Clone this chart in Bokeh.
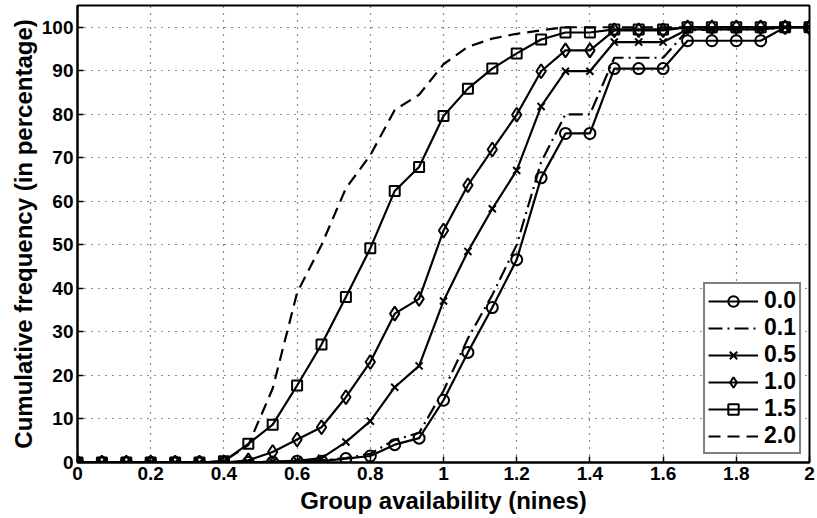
from bokeh.plotting import figure
from bokeh.models import Range1d, FixedTicker, CustomJSTickFormatter
from bokeh.embed import file_html
from bokeh.resources import INLINE

# Group availability (nines)
x = [0.0, 0.0667, 0.1333, 0.2, 0.2667, 0.3333, 0.4, 0.4667, 0.5333, 0.6,
     0.6667, 0.7333, 0.8, 0.8667, 0.9333, 1.0, 1.0667, 1.1333, 1.2, 1.2667,
     1.3333, 1.4, 1.4667, 1.5333, 1.6, 1.6667, 1.7333, 1.8, 1.8667, 1.9333, 2.0]

s00 = [0, 0, 0, 0, 0, 0, 0, 0, 0.1, 0.3, 0.3, 0.9, 1.5, 4.1, 5.6, 14.3, 25.3,
       35.6, 46.6, 65.4, 75.6, 75.6, 90.5, 90.5, 90.5, 96.9, 96.9, 96.9, 96.9, 100, 100]
s01 = [0, 0, 0, 0, 0, 0, 0, 0, 0.2, 0.4, 0.5, 1.0, 2.0, 5.2, 6.8, 16.5, 28.5,
       38.5, 50.0, 69.0, 80.0, 80.0, 93.0, 93.0, 93.0, 99.3, 99.5, 99.5, 99.5, 100, 100]
s05 = [0, 0, 0, 0, 0, 0, 0, 0, 0.2, 0.4, 1.0, 4.7, 9.5, 17.3, 22.2, 37.1, 48.5,
       58.3, 67.1, 81.8, 89.9, 89.9, 96.6, 96.6, 96.6, 99.5, 99.5, 99.5, 99.5, 100, 100]
s10 = [0, 0, 0, 0, 0, 0, 0, 0.5, 2.4, 5.3, 8.1, 15.0, 23.1, 34.2, 37.6, 53.3, 63.7,
       71.9, 79.9, 89.9, 94.7, 94.7, 99.3, 99.3, 99.3, 100, 100, 100, 100, 100, 100]
s15 = [0, 0, 0, 0, 0, 0, 0.3, 4.3, 8.7, 17.7, 27.1, 38.0, 49.2, 62.4, 67.9, 79.6, 85.9,
       90.5, 94.0, 97.2, 98.8, 98.8, 99.5, 99.5, 99.5, 100, 100, 100, 100, 100, 100]
s20 = [0, 0, 0, 0, 0, 0, 0.3, 4.0, 17.0, 39.0, 50.0, 63.0, 70.6, 81.0, 84.5, 91.5, 95.5,
       97.4, 98.5, 99.3, 100, 100, 100, 100, 100, 100, 100, 100, 100, 100, 100]

x_ticks = [0, 0.2, 0.4, 0.6, 0.8, 1.0, 1.2, 1.4, 1.6, 1.8, 2.0]
y_ticks = [0, 10, 20, 30, 40, 50, 60, 70, 80, 90, 100]

FONT = "Liberation Sans"

p = figure(width=815, height=516, output_backend="svg", toolbar_location=None,
           x_range=Range1d(0, 2), y_range=Range1d(0, 105),
           min_border_left=77, min_border_right=6, min_border_top=5, min_border_bottom=54)

p.background_fill_color = "white"
p.outline_line_color = "black"
p.outline_line_width = 2

fmt = CustomJSTickFormatter(code="var s = tick.toFixed(1); return s.endsWith('.0') ? s.slice(0, -2) : s;")

for ax in p.xaxis:
    ax.ticker = FixedTicker(ticks=x_ticks)
    ax.formatter = fmt
for ax in p.yaxis:
    ax.ticker = FixedTicker(ticks=y_ticks)

for ax in list(p.xaxis) + list(p.yaxis):
    ax.axis_line_width = 2
    ax.major_tick_in = 6
    ax.major_tick_out = 0
    ax.major_tick_line_width = 1.5
    ax.minor_tick_line_color = None
    ax.major_label_text_font = FONT
    ax.major_label_text_font_style = "bold"
    ax.major_label_text_font_size = "19px"
    ax.major_label_text_color = "black"
    ax.axis_label_text_font = FONT
    ax.axis_label_text_font_style = "bold"
    ax.axis_label_text_font_size = "24px"
    ax.axis_label_text_color = "black"

p.xaxis.axis_label = "Group availability (nines)"
p.yaxis.axis_label = "Cumulative frequency (in percentage)"
p.xaxis.major_label_standoff = 4
p.yaxis.major_label_standoff = 4
p.xaxis.axis_label_standoff = 4
p.yaxis.axis_label_standoff = 2

for g in (p.xgrid, p.ygrid):
    g.grid_line_color = "black"
    g.grid_line_dash = "1 6"
    g.grid_line_width = 1.2
    g.grid_line_alpha = 0.9
p.xgrid.ticker = FixedTicker(ticks=x_ticks)
p.ygrid.ticker = FixedTicker(ticks=y_ticks)

LW = 2.2

p.line(x, s00, line_color="black", line_width=LW, legend_label="0.0")
p.scatter(x, s00, marker="circle", size=11, fill_alpha=0, line_color="black", line_width=2, legend_label="0.0")

p.line(x, s01, line_color="black", line_width=LW, line_dash="14 5 2 5", legend_label="0.1")

p.line(x, s05, line_color="black", line_width=LW, legend_label="0.5")
p.scatter(x, s05, marker="x", size=10, line_color="black", line_width=2, legend_label="0.5")

p.line(x, s10, line_color="black", line_width=LW, legend_label="1.0")
p.scatter(x, s10, marker="diamond", size=14, fill_alpha=0, line_color="black", line_width=2, legend_label="1.0")

p.line(x, s15, line_color="black", line_width=LW, legend_label="1.5")
p.scatter(x, s15, marker="square", size=10, fill_alpha=0, line_color="black", line_width=2, legend_label="1.5")

p.line(x, s20, line_color="black", line_width=LW, line_dash="12 7", legend_label="2.0")

lg = p.legend[0]
lg.location = "bottom_right"
lg.margin = 8
lg.padding = 3
lg.spacing = 0
lg.glyph_width = 50
lg.glyph_height = 26
lg.label_height = 26
lg.label_standoff = 6
lg.label_text_font = FONT
lg.label_text_font_style = "bold"
lg.label_text_font_size = "23px"
lg.label_text_color = "black"
lg.border_line_color = "black"
lg.border_line_width = 2
lg.background_fill_alpha = 1

open("out.html", "w").write(file_html(p, INLINE))
